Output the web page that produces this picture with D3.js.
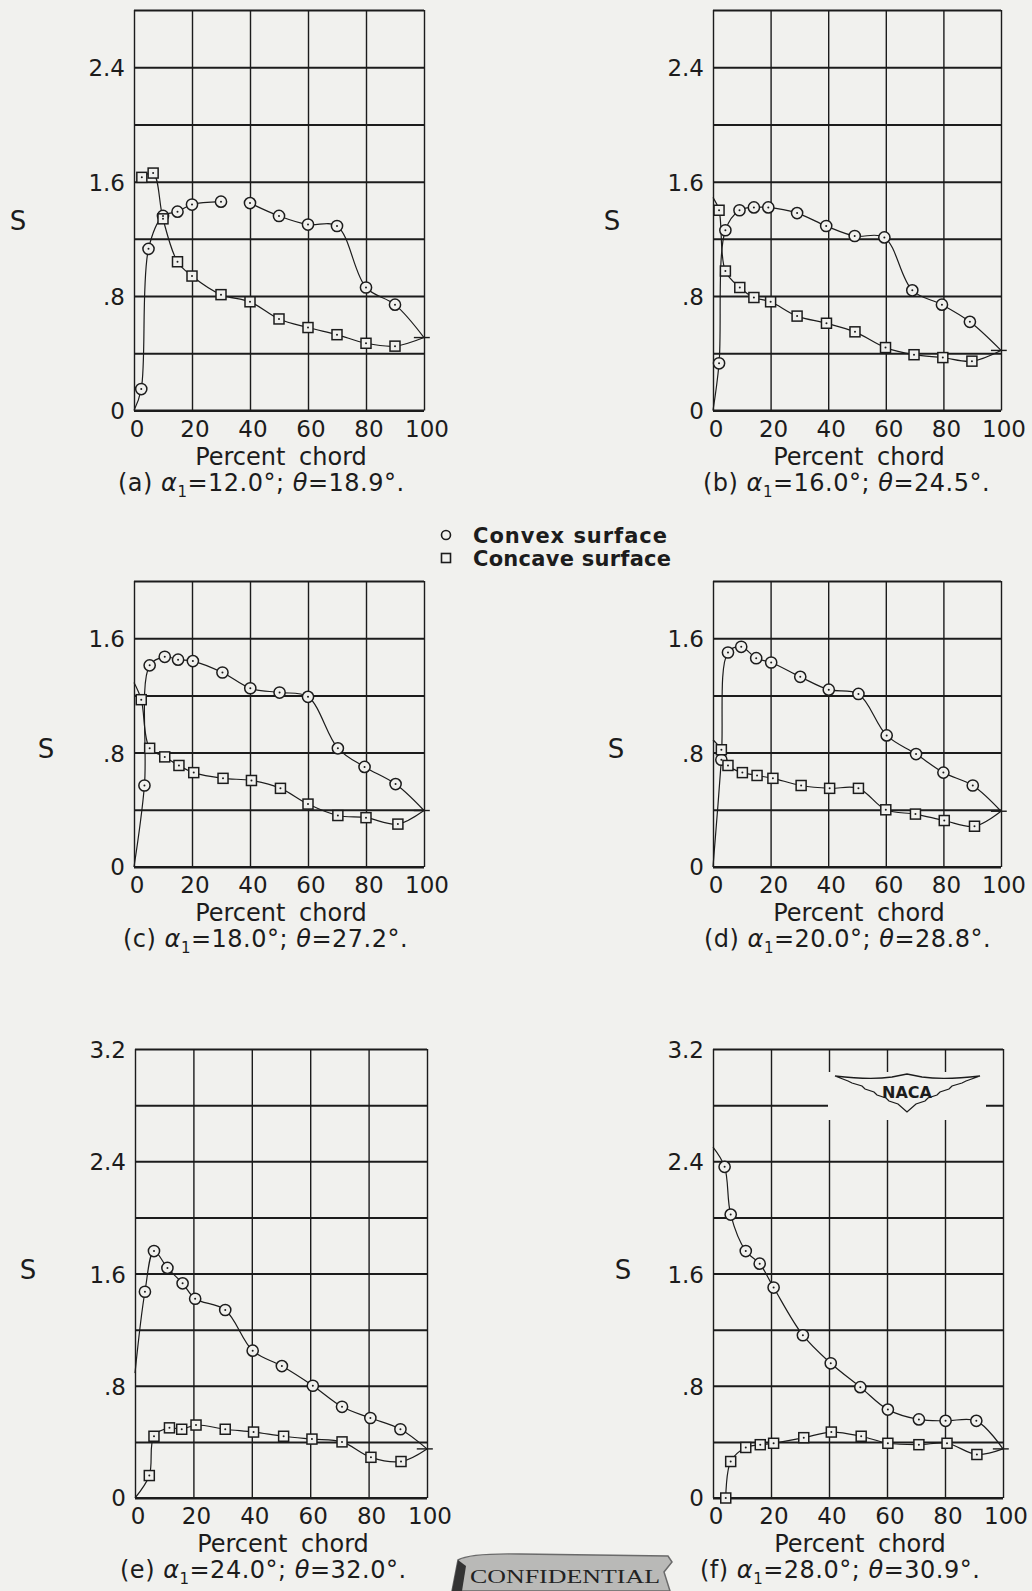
<!DOCTYPE html>
<html><head><meta charset="utf-8">
<script src="https://cdn.jsdelivr.net/npm/d3@7"></script>
<style>html,body{margin:0;padding:0;background:#f1f1ee;} svg{display:block}</style>
</head><body><svg id="chart" width="1032" height="1591"></svg>
<script>
// ---------------- DATA ----------------
const panelIds = ["a", "b", "c", "d", "e", "f"];
const alphaValues = ["12.0", "16.0", "18.0", "20.0", "24.0", "28.0"];
const thetaValues = ["18.9", "24.5", "27.2", "28.8", "32.0", "30.9"];
const yMaxValues = [2.8, 2.8, 2.0, 2.0, 3.2, 3.2];
const yTickValues = [[0, 0.8, 1.6, 2.4], [0, 0.8, 1.6, 2.4], [0, 0.8, 1.6], [0, 0.8, 1.6], [0, 0.8, 1.6, 2.4, 3.2], [0, 0.8, 1.6, 2.4, 3.2]];
const yTickLabels = [["0", ".8", "1.6", "2.4"], ["0", ".8", "1.6", "2.4"], ["0", ".8", "1.6"], ["0", ".8", "1.6"], ["0", ".8", "1.6", "2.4", "3.2"], ["0", ".8", "1.6", "2.4", "3.2"]];
const xTickValues = [0, 20, 40, 60, 80, 100];
const xTickLabels = ["0", "20", "40", "60", "80", "100"];

// convex surface (circles)
const convexA_x = [2.5, 5, 10, 15, 20, 30, 40, 50, 60, 70, 80, 90];
const convexA_s = [0.15, 1.13, 1.36, 1.39, 1.44, 1.46, 1.45, 1.36, 1.30, 1.29, 0.86, 0.74];
const convexB_x = [2.1, 4.3, 9.2, 14.2, 19.2, 29.2, 39.3, 49.2, 59.5, 69.2, 79.5, 89.2];
const convexB_s = [0.33, 1.26, 1.40, 1.42, 1.42, 1.38, 1.29, 1.22, 1.21, 0.84, 0.74, 0.62];
const convexC_x = [3.6, 5.4, 10.6, 15.2, 20.3, 30.5, 40.1, 50.2, 60, 70.3, 79.5, 90.2];
const convexC_s = [0.57, 1.41, 1.47, 1.45, 1.44, 1.36, 1.25, 1.22, 1.19, 0.83, 0.70, 0.58];
const convexD_x = [2.9, 5.2, 9.8, 15, 20.2, 30.3, 40.2, 50.5, 60.3, 70.5, 80, 90.2];
const convexD_s = [0.75, 1.50, 1.54, 1.46, 1.43, 1.33, 1.24, 1.21, 0.92, 0.79, 0.66, 0.57];
const convexE_x = [3.4, 6.5, 11.1, 16.3, 20.6, 30.9, 40.3, 50.3, 60.9, 70.9, 80.6, 90.9];
const convexE_s = [1.47, 1.76, 1.64, 1.53, 1.42, 1.34, 1.05, 0.94, 0.80, 0.65, 0.57, 0.49];
const convexF_x = [4, 6.1, 11.3, 16.1, 20.9, 31, 40.6, 50.8, 60.3, 71, 80.2, 90.8];
const convexF_s = [2.36, 2.02, 1.76, 1.67, 1.50, 1.16, 0.96, 0.79, 0.63, 0.56, 0.55, 0.55];

// concave surface (squares)
const concaveA_x = [2.7, 6.6, 10, 15, 20, 30, 40, 50, 60, 70, 80, 90];
const concaveA_s = [1.63, 1.66, 1.34, 1.04, 0.94, 0.81, 0.76, 0.64, 0.58, 0.53, 0.47, 0.45];
const concaveB_x = [2.1, 4.3, 9.3, 14.2, 20, 29.2, 39.4, 49.3, 59.9, 69.8, 79.8, 89.9];
const concaveB_s = [1.40, 0.975, 0.86, 0.79, 0.76, 0.66, 0.61, 0.55, 0.44, 0.39, 0.37, 0.345];
const concaveC_x = [2.5, 5.4, 10.6, 15.5, 20.6, 30.7, 40.5, 50.5, 60, 70.3, 80, 91];
const concaveC_s = [1.17, 0.83, 0.77, 0.71, 0.66, 0.62, 0.605, 0.55, 0.44, 0.36, 0.345, 0.30];
const concaveD_x = [2.9, 5.2, 10.2, 15.3, 20.8, 30.6, 40.5, 50.5, 60, 70.3, 80.3, 90.8];
const concaveD_s = [0.82, 0.71, 0.66, 0.64, 0.62, 0.57, 0.55, 0.55, 0.40, 0.37, 0.325, 0.285];
const concaveE_x = [4.9, 6.5, 11.8, 16, 20.9, 30.9, 40.6, 50.9, 60.6, 70.9, 80.8, 91.1];
const concaveE_s = [0.16, 0.44, 0.50, 0.49, 0.52, 0.49, 0.47, 0.44, 0.42, 0.40, 0.29, 0.26];
const concaveF_x = [4.4, 6.1, 11.3, 16.3, 20.9, 31.3, 40.8, 51.1, 60.3, 71, 80.7, 91];
const concaveF_s = [0.0, 0.26, 0.36, 0.38, 0.39, 0.43, 0.47, 0.44, 0.39, 0.38, 0.39, 0.31];

// leading-edge (x = 0) start values of the faired curves (null = curve starts at first point)
const convexLeadingS = [0, 0, 0, 0, 0.89, 2.5];
const concaveLeadingS = [null, 1.49, 1.29, 0.89, 0, null];
// trailing-edge (x = 100) value where both curves meet
const trailingS = [0.51, 0.42, 0.395, 0.39, 0.35, 0.35];
// convex fairing is interrupted after this station (null = continuous)
const convexBreakAfter = [30, null, null, null, null, null];

const convexX = [convexA_x, convexB_x, convexC_x, convexD_x, convexE_x, convexF_x];
const convexS = [convexA_s, convexB_s, convexC_s, convexD_s, convexE_s, convexF_s];
const concaveX = [concaveA_x, concaveB_x, concaveC_x, concaveD_x, concaveE_x, concaveF_x];
const concaveS = [concaveA_s, concaveB_s, concaveC_s, concaveD_s, concaveE_s, concaveF_s];

// ---------------- LAYOUT ----------------
const INK = "#1c1c1c";
const PAPER = "#f1f1ee";
const FONT = "'DejaVu Sans', sans-serif";
const frames = [
  {x0: 134, x1: 424, y0: 10, y1: 410.5, sx: 18, sy: 221},
  {x0: 713, x1: 1001, y0: 10, y1: 410.5, sx: 612, sy: 221},
  {x0: 134, x1: 424, y0: 581, y1: 867, sx: 46, sy: 749},
  {x0: 713, x1: 1001, y0: 581, y1: 867, sx: 616, sy: 749},
  {x0: 135, x1: 427, y0: 1049, y1: 1498, sx: 28, sy: 1270},
  {x0: 713, x1: 1003, y0: 1049, y1: 1498, sx: 623, sy: 1270}
];
const captionX = [118, 703, 123, 704, 120, 700];

const svg = d3.select("#chart");
svg.append("rect").attr("width", 1032).attr("height", 1591).attr("fill", PAPER);

panelIds.forEach((id, i) => {
  const f = frames[i];
  const x = d3.scaleLinear().domain([0, 100]).range([f.x0, f.x1]);
  const y = d3.scaleLinear().domain([0, yMaxValues[i]]).range([f.y1, f.y0]);
  const g = svg.append("g");

  // horizontal grid lines every 0.4
  const hVals = d3.range(0, yMaxValues[i] + 0.001, 0.4);
  g.append("g").call(d3.axisLeft(y).tickValues(hVals).tickSize(-(f.x1 - f.x0)).tickFormat(""))
    .attr("transform", `translate(${f.x0},0)`)
    .call(a => a.select(".domain").remove())
    .call(a => a.selectAll("line").attr("stroke", INK).attr("stroke-width", 2));
  // vertical grid lines every 20
  g.append("g").call(d3.axisBottom(x).tickValues(xTickValues).tickSize(-(f.y1 - f.y0)).tickFormat(""))
    .attr("transform", `translate(0,${f.y1})`)
    .call(a => a.select(".domain").remove())
    .call(a => a.selectAll("line").attr("stroke", INK).attr("stroke-width", 1.4));
  g.append("line").attr("x1", f.x0).attr("x2", f.x1).attr("y1", f.y1).attr("y2", f.y1)
    .attr("stroke", INK).attr("stroke-width", 2);

  // NACA logo area in panel f covers the grid
  if (id === "f") {
    svg.append("rect").attr("x", 828).attr("y", 1072).attr("width", 158).attr("height", 48).attr("fill", PAPER);
  }

  // tick labels
  g.selectAll(".xl").data(xTickValues).join("text")
    .attr("x", d => x(d) + 3).attr("y", f.y1 + 26)
    .attr("text-anchor", "middle").attr("font-family", FONT).attr("font-size", 23)
    .attr("fill", INK).text((d, k) => xTickLabels[k]);
  g.selectAll(".yl").data(yTickValues[i]).join("text")
    .attr("x", f.x0 - 9).attr("y", d => y(d) + (d === 0 ? 8 : 9))
    .attr("text-anchor", "end").attr("font-family", FONT).attr("font-size", 23)
    .attr("fill", INK).text((d, k) => yTickLabels[i][k]);
  // axis titles
  g.append("text").attr("x", (f.x0 + f.x1) / 2 + 2).attr("y", f.y1 + 54)
    .attr("text-anchor", "middle").attr("font-family", FONT).attr("font-size", 24)
    .attr("fill", INK).attr("word-spacing", 6).text("Percent chord");
  g.append("text").attr("x", f.sx).attr("y", f.sy + 9).attr("text-anchor", "middle")
    .attr("font-family", FONT).attr("font-size", 26).attr("fill", INK).text("S");
  // caption
  const cap = g.append("text").attr("x", captionX[i]).attr("y", f.y1 + 80)
    .attr("font-family", FONT).attr("font-size", 24).attr("fill", INK).attr("letter-spacing", 0.5);
  cap.append("tspan").text(`(${id})  `);
  cap.append("tspan").attr("font-style", "italic").text("α");
  cap.append("tspan").attr("font-size", 15).attr("dy", 6).text("1");
  cap.append("tspan").attr("dy", -6).text(`=${alphaValues[i]}°;  `);
  cap.append("tspan").attr("font-style", "italic").text("θ");
  cap.append("tspan").text(`=${thetaValues[i]}°.`);

  // faired curves
  const line = d3.line().x(d => x(d[0])).y(d => y(d[1])).curve(d3.curveCatmullRom.alpha(0.5));
  const cPts = convexX[i].map((v, k) => [v, convexS[i][k]]);
  const kPts = concaveX[i].map((v, k) => [v, concaveS[i][k]]);
  let convexFull = [];
  if (convexLeadingS[i] !== null) convexFull.push([0, convexLeadingS[i]]);
  convexFull = convexFull.concat(cPts);
  convexFull.push([100, trailingS[i]]);
  let concaveFull = [];
  if (concaveLeadingS[i] !== null) concaveFull.push([0, concaveLeadingS[i]]);
  concaveFull = concaveFull.concat(kPts);
  concaveFull.push([100, trailingS[i]]);

  const segs = [];
  if (convexBreakAfter[i] !== null) {
    segs.push(convexFull.filter(p => p[0] <= convexBreakAfter[i]));
    segs.push(convexFull.filter(p => p[0] > convexBreakAfter[i]));
  } else segs.push(convexFull);
  segs.push(concaveFull);
  g.selectAll(".curve").data(segs).join("path")
    .attr("d", line).attr("fill", "none").attr("stroke", INK).attr("stroke-width", 1.2);
  // trailing edge tick
  g.append("line").attr("x1", x(96.5)).attr("x2", x(102)).attr("y1", y(trailingS[i])).attr("y2", y(trailingS[i]))
    .attr("stroke", INK).attr("stroke-width", 1.4);

  // markers
  g.selectAll(".cv").data(cPts).join("circle")
    .attr("cx", d => x(d[0])).attr("cy", d => y(d[1])).attr("r", 5.6)
    .attr("fill", PAPER).attr("stroke", INK).attr("stroke-width", 1.5);
  g.selectAll(".cc").data(kPts).join("rect")
    .attr("x", d => x(d[0]) - 5).attr("y", d => y(d[1]) - 5).attr("width", 10).attr("height", 10)
    .attr("fill", PAPER).attr("stroke", INK).attr("stroke-width", 1.5);
  g.selectAll(".dot").data(cPts.concat(kPts)).join("circle")
    .attr("cx", d => x(d[0])).attr("cy", d => y(d[1])).attr("r", 1).attr("fill", INK);
});

// legend
const leg = svg.append("g");
leg.append("circle").attr("cx", 446).attr("cy", 535).attr("r", 4.5).attr("fill", "none").attr("stroke", INK).attr("stroke-width", 1.6);
leg.append("rect").attr("x", 441.5).attr("y", 553.5).attr("width", 9).attr("height", 9).attr("fill", "none").attr("stroke", INK).attr("stroke-width", 1.6);
leg.append("text").attr("x", 473).attr("y", 543).attr("font-family", FONT).attr("font-weight", "bold")
  .attr("font-size", 21).attr("fill", INK).attr("textLength", 194).attr("lengthAdjust", "spacing").text("Convex surface");
leg.append("text").attr("x", 473).attr("y", 566).attr("font-family", FONT).attr("font-weight", "bold")
  .attr("font-size", 21).attr("fill", INK).attr("textLength", 198).attr("lengthAdjust", "spacing").text("Concave surface");

// NACA logo
const logo = svg.append("g");
const wing = "M835,1076 Q870,1080 892,1077 L907,1074 L922,1077 Q945,1080 980,1076 " +
  "L966,1081 L962,1083 L952,1086 L949,1089 L940,1092 L937,1095 L928,1098 L925,1101 L916,1104 L907,1112 " +
  "L898,1104 L889,1101 L886,1098 L877,1095 L874,1092 L865,1089 L862,1086 L852,1083 L848,1081 Z";
logo.append("path").attr("d", wing).attr("fill", PAPER).attr("stroke", INK).attr("stroke-width", 1.3);
logo.append("text").attr("x", 907).attr("y", 1098).attr("text-anchor", "middle").attr("font-family", FONT)
  .attr("font-weight", "bold").attr("font-size", 16).attr("fill", INK).text("NACA");

// CONFIDENTIAL stamp
const st = svg.append("g");
st.append("path").attr("d", "M458,1560 Q470,1553 520,1554 L668,1556 L672,1562 L664,1572 L670,1591 L452,1591 Z")
  .attr("fill", "#b9b9b7").attr("stroke", "#6a6a6a").attr("stroke-width", 1.5);
st.append("path").attr("d", "M458,1560 L452,1591 L462,1591 L466,1566 Z").attr("fill", "#333");
st.append("text").attr("x", 470).attr("y", 1583).attr("font-family", "'Liberation Serif', serif")
  .attr("font-size", 19).attr("fill", "#222").attr("textLength", 190).attr("lengthAdjust", "spacingAndGlyphs").text("CONFIDENTIAL");
</script></body></html>
